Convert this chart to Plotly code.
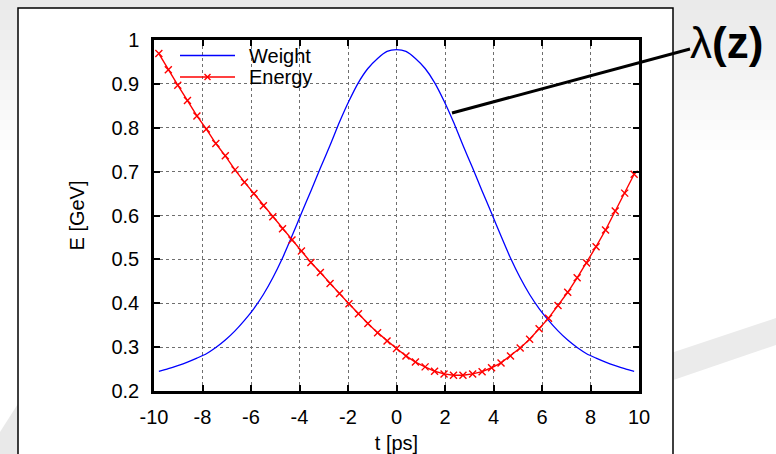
import plotly.graph_objects as go

# Time grid of the simulation bins [ps]
t_ps = [-9.80, -9.41, -9.02, -8.62, -8.23, -7.84, -7.45, -7.06, -6.66, -6.27,
        -5.88, -5.49, -5.10, -4.70, -4.31, -3.92, -3.53, -3.14, -2.74, -2.35,
        -1.96, -1.57, -1.18, -0.78, -0.39, 0.00, 0.39, 0.78, 1.18, 1.57,
        1.96, 2.35, 2.74, 3.14, 3.53, 3.92, 4.31, 4.70, 5.10, 5.49,
        5.88, 6.27, 6.66, 7.06, 7.45, 7.84, 8.23, 8.62, 9.02, 9.41, 9.80]

# Longitudinal weight (bunch profile)
weight = [0.245, 0.251, 0.258, 0.266, 0.275, 0.285, 0.299, 0.316, 0.337, 0.361,
          0.388, 0.420, 0.458, 0.503, 0.553, 0.605, 0.656, 0.708, 0.760, 0.813,
          0.861, 0.903, 0.935, 0.958, 0.974, 0.978, 0.974, 0.958, 0.935, 0.903,
          0.861, 0.813, 0.760, 0.708, 0.656, 0.605, 0.553, 0.503, 0.458, 0.420,
          0.388, 0.361, 0.337, 0.316, 0.299, 0.285, 0.275, 0.266, 0.258, 0.251, 0.245]

# Particle energy [GeV]
energy = [0.969, 0.932, 0.897, 0.862, 0.827, 0.797, 0.764, 0.736, 0.704, 0.676,
          0.650, 0.622, 0.597, 0.570, 0.544, 0.519, 0.493, 0.470, 0.445, 0.422,
          0.399, 0.376, 0.354, 0.333, 0.314, 0.297, 0.280, 0.266, 0.255, 0.245,
          0.239, 0.236, 0.236, 0.239, 0.244, 0.253, 0.264, 0.280, 0.298, 0.318,
          0.342, 0.366, 0.395, 0.425, 0.458, 0.492, 0.529, 0.567, 0.610, 0.651, 0.694]

x_ticks = [-10, -8, -6, -4, -2, 0, 2, 4, 6, 8, 10]
x_tick_text = ["-10", "-8", "-6", "-4", "-2", "0", "2", "4", "6", "8", "10"]
y_ticks = [0.2, 0.3, 0.4, 0.5, 0.6, 0.7, 0.8, 0.9, 1.0]
y_tick_text = ["0.2", "0.3", "0.4", "0.5", "0.6", "0.7", "0.8", "0.9", "1"]

W, H = 776, 454
L, R, T, B = 154, 639, 40, 391  # plot-area edges in pixels
FONT = "Liberation Sans, Arial, sans-serif"


def px(xp):
    return (xp - L) / (R - L)


def py(yp):
    return (B - yp) / (B - T)


fig = go.Figure()
fig.add_trace(go.Scatter(x=t_ps, y=weight, mode="lines", name="Weight",
                         line=dict(color="#0000ff", width=1.3, shape="spline", smoothing=0.6)))
fig.add_trace(go.Scatter(x=t_ps, y=energy, mode="lines+markers", name="Energy",
                         line=dict(color="#ff0000", width=1.4),
                         marker=dict(symbol="x-thin", size=7,
                                     line=dict(color="#ff0000", width=1.4))))

shapes = []
# soft grey page background fading towards white
steps = 15
for i in range(steps):
    g = int(234 + (255 - 234) * i / steps)
    shapes.append(dict(type="rect", xref="paper", yref="paper", layer="below",
                       x0=px(0), x1=px(W), y0=py(i * 10), y1=py(i * 10 + 10),
                       fillcolor=f"rgb({g},{g},{g})", line=dict(width=0)))
# grey swooshes
shapes.append(dict(type="path", xref="paper", yref="paper", layer="below",
                   path=f"M{px(650)},{py(360)} L{px(776)},{py(318)} L{px(776)},{py(345)} L{px(650)},{py(388)} Z",
                   fillcolor="#ebebeb", line=dict(width=0)))
shapes.append(dict(type="path", xref="paper", yref="paper", layer="below",
                   path=f"M{px(0)},{py(432)} L{px(30)},{py(385)} L{px(30)},{py(454)} L{px(0)},{py(454)} Z",
                   fillcolor="#e9e9e9", line=dict(width=0)))
# white canvas with black frame
shapes.append(dict(type="rect", xref="paper", yref="paper", layer="below",
                   x0=px(18), x1=px(673), y0=py(8), y1=py(470),
                   fillcolor="white", line=dict(color="black", width=1.5)))
# key box
shapes.append(dict(type="rect", xref="paper", yref="paper", layer="between",
                   x0=px(168), x1=px(322), y0=py(42), y1=py(86),
                   fillcolor="white", line=dict(width=0)))
# key samples
shapes.append(dict(type="line", xref="paper", yref="paper", layer="above",
                   x0=px(180), x1=px(235), y0=py(55.5), y1=py(55.5),
                   line=dict(color="#0000ff", width=1.3)))
shapes.append(dict(type="line", xref="paper", yref="paper", layer="above",
                   x0=px(180), x1=px(235), y0=py(77), y1=py(77),
                   line=dict(color="#ff0000", width=1.4)))
mx, my, d = 207.5, 77, 3
shapes.append(dict(type="path", xref="paper", yref="paper", layer="above",
                   path=(f"M{px(mx-d)},{py(my-d)} L{px(mx+d)},{py(my+d)} "
                         f"M{px(mx-d)},{py(my+d)} L{px(mx+d)},{py(my-d)}"),
                   line=dict(color="#ff0000", width=1.4)))
# pointer to the weight curve
shapes.append(dict(type="line", xref="paper", yref="paper", layer="above",
                   x0=px(452), y0=py(113), x1=px(690), y1=py(49),
                   line=dict(color="black", width=3)))

annotations = [
    dict(text="Weight", x=px(247), y=py(55.5), xref="paper", yref="paper",
         xanchor="left", yanchor="middle", showarrow=False,
         font=dict(family=FONT, size=20, color="black")),
    dict(text="Energy", x=px(247), y=py(77), xref="paper", yref="paper",
         xanchor="left", yanchor="middle", showarrow=False,
         font=dict(family=FONT, size=20, color="black")),
    dict(text="λ<b>(z)</b>", x=px(688), y=py(42), xref="paper", yref="paper",
         xanchor="left", yanchor="middle", showarrow=False,
         font=dict(family=FONT, size=44, color="black")),
]

axis_common = dict(showline=True, linecolor="black", linewidth=2.5, mirror="ticks",
                   ticks="inside", ticklen=6, tickwidth=2, tickcolor="black",
                   showgrid=True, gridcolor="#6f6f6f", gridwidth=1, griddash="dot",
                   zeroline=False, tickfont=dict(family=FONT, size=20, color="black"))

fig.update_layout(
    width=W, height=H,
    margin=dict(l=L, r=W - R, t=T, b=H - B, autoexpand=False),
    paper_bgcolor="white", plot_bgcolor="rgba(0,0,0,0)",
    showlegend=False,
    shapes=shapes, annotations=annotations,
    xaxis=dict(range=[-10, 10], tickvals=x_ticks, ticktext=x_tick_text, ticklabelstandoff=6,
               title=dict(text="t [ps]", standoff=10, font=dict(family=FONT, size=20, color="black")),
               **axis_common),
    yaxis=dict(range=[0.2, 1.0], tickvals=y_ticks, ticktext=y_tick_text, ticklabelstandoff=8,
               title=dict(text="E [GeV]", standoff=22, font=dict(family=FONT, size=20, color="black")),
               **axis_common),
)

fig.write_html("out.html")
